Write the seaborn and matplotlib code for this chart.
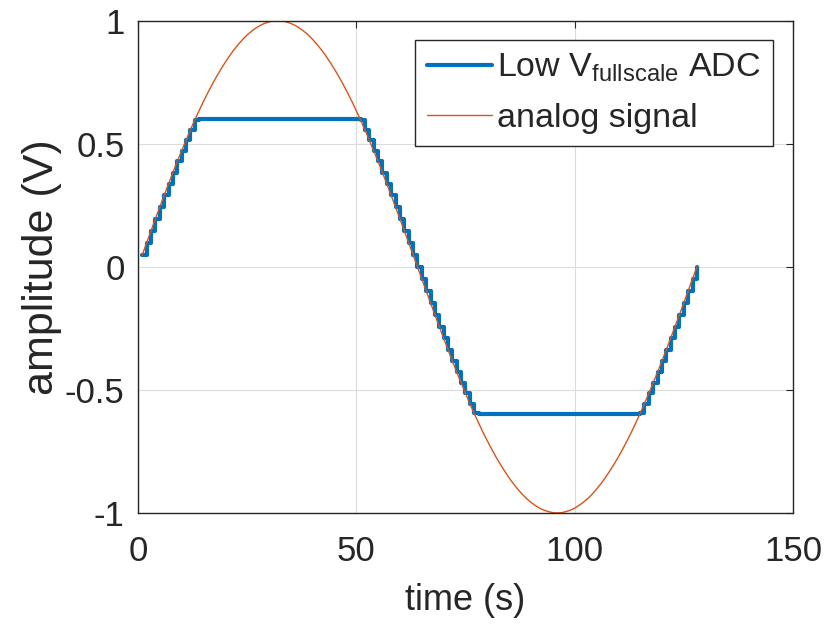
from matplotlib import pyplot as plt
import seaborn as sns
import pandas as pd

sns.set_style("whitegrid")
plt.rcParams['font.family'] = ['Liberation Sans', 'DejaVu Sans']
plt.rcParams['mathtext.fontset'] = 'custom'
plt.rcParams['mathtext.rm'] = 'Liberation Sans'

# sample index (1..128)
time = list(range(1, 129))

# analog signal, one period of the sine
analog = [
    0.049, 0.098, 0.147, 0.195, 0.243, 0.290, 0.337, 0.383, 0.428, 0.471, 0.514, 0.556,
    0.596, 0.634, 0.672, 0.707, 0.741, 0.773, 0.803, 0.831, 0.858, 0.882, 0.904, 0.924,
    0.942, 0.957, 0.970, 0.981, 0.989, 0.995, 0.999, 1.000,
    0.999, 0.995, 0.989, 0.981, 0.970, 0.957, 0.942, 0.924, 0.904, 0.882, 0.858, 0.831,
    0.803, 0.773, 0.741, 0.707, 0.672, 0.634, 0.596, 0.556, 0.514, 0.471, 0.428, 0.383,
    0.337, 0.290, 0.243, 0.195, 0.147, 0.098, 0.049, 0.000,
    -0.049, -0.098, -0.147, -0.195, -0.243, -0.290, -0.337, -0.383, -0.428, -0.471, -0.514, -0.556,
    -0.596, -0.634, -0.672, -0.707, -0.741, -0.773, -0.803, -0.831, -0.858, -0.882, -0.904, -0.924,
    -0.942, -0.957, -0.970, -0.981, -0.989, -0.995, -0.999, -1.000,
    -0.999, -0.995, -0.989, -0.981, -0.970, -0.957, -0.942, -0.924, -0.904, -0.882, -0.858, -0.831,
    -0.803, -0.773, -0.741, -0.707, -0.672, -0.634, -0.596, -0.556, -0.514, -0.471, -0.428, -0.383,
    -0.337, -0.290, -0.243, -0.195, -0.147, -0.098, -0.049, 0.000,
]

# ADC output, saturating at +/-0.6 V
adc = [
    0.049, 0.098, 0.147, 0.195, 0.243, 0.290, 0.337, 0.383, 0.428, 0.471, 0.514, 0.556,
    0.596, 0.6, 0.6, 0.6, 0.6, 0.6, 0.6, 0.6, 0.6, 0.6, 0.6, 0.6,
    0.6, 0.6, 0.6, 0.6, 0.6, 0.6, 0.6, 0.6,
    0.6, 0.6, 0.6, 0.6, 0.6, 0.6, 0.6, 0.6, 0.6, 0.6, 0.6, 0.6,
    0.6, 0.6, 0.6, 0.6, 0.6, 0.6, 0.596, 0.556, 0.514, 0.471, 0.428, 0.383,
    0.337, 0.290, 0.243, 0.195, 0.147, 0.098, 0.049, 0.000,
    -0.049, -0.098, -0.147, -0.195, -0.243, -0.290, -0.337, -0.383, -0.428, -0.471, -0.514, -0.556,
    -0.596, -0.6, -0.6, -0.6, -0.6, -0.6, -0.6, -0.6, -0.6, -0.6, -0.6, -0.6,
    -0.6, -0.6, -0.6, -0.6, -0.6, -0.6, -0.6, -0.6,
    -0.6, -0.6, -0.6, -0.6, -0.6, -0.6, -0.6, -0.6, -0.6, -0.6, -0.6, -0.6,
    -0.6, -0.6, -0.6, -0.6, -0.6, -0.6, -0.596, -0.556, -0.514, -0.471, -0.428, -0.383,
    -0.337, -0.290, -0.243, -0.195, -0.147, -0.098, -0.049, 0.000,
]

df = pd.DataFrame({'time': time, 'analog': analog, 'adc': adc})

fig = plt.figure(figsize=(8.26, 6.27), dpi=100)
ax = fig.add_axes([0.167, 0.182, 0.793, 0.785])

sns.lineplot(data=df, x='time', y='adc', ax=ax, color='#0072BD', linewidth=3.0,
             drawstyle='steps-post', label=r'Low V$_{\mathregular{fullscale}}$ ADC')
sns.lineplot(data=df, x='time', y='analog', ax=ax, color='#D95319', linewidth=1.0,
             label='analog signal')

ax.set_xlim(0, 150)
ax.set_ylim(-1, 1)
ax.set_xticks([0, 50, 100, 150])
ax.set_yticks([-1, -0.5, 0, 0.5, 1])
ax.set_yticklabels(['-1', '-0.5', '0', '0.5', '1'])
ax.set_xlabel('time (s)', fontsize=26, labelpad=11)
ax.set_ylabel('amplitude (V)', fontsize=31, labelpad=2)
ax.tick_params(direction='in', length=5, width=0.8, labelsize=25, color='#262626',
               top=True, right=True)
ax.tick_params(axis='x', pad=16)
ax.tick_params(axis='y', pad=9.5)
ax.grid(True, color='#dcdcdc', linewidth=0.8)
for s in ax.spines.values():
    s.set_color('#262626')
    s.set_linewidth(1.0)
ax.set_facecolor('white')

leg = ax.legend(loc='upper right', bbox_to_anchor=(0.969, 0.961), borderaxespad=0,
                fontsize=24.5, frameon=True, fancybox=False, framealpha=1,
                handlelength=1.9, handletextpad=0.15, labelspacing=0.55, borderpad=0.35)
leg.get_frame().set_edgecolor('#262626')
leg.get_frame().set_linewidth(1.0)

fig.savefig('out.png', dpi=100, facecolor='white')
